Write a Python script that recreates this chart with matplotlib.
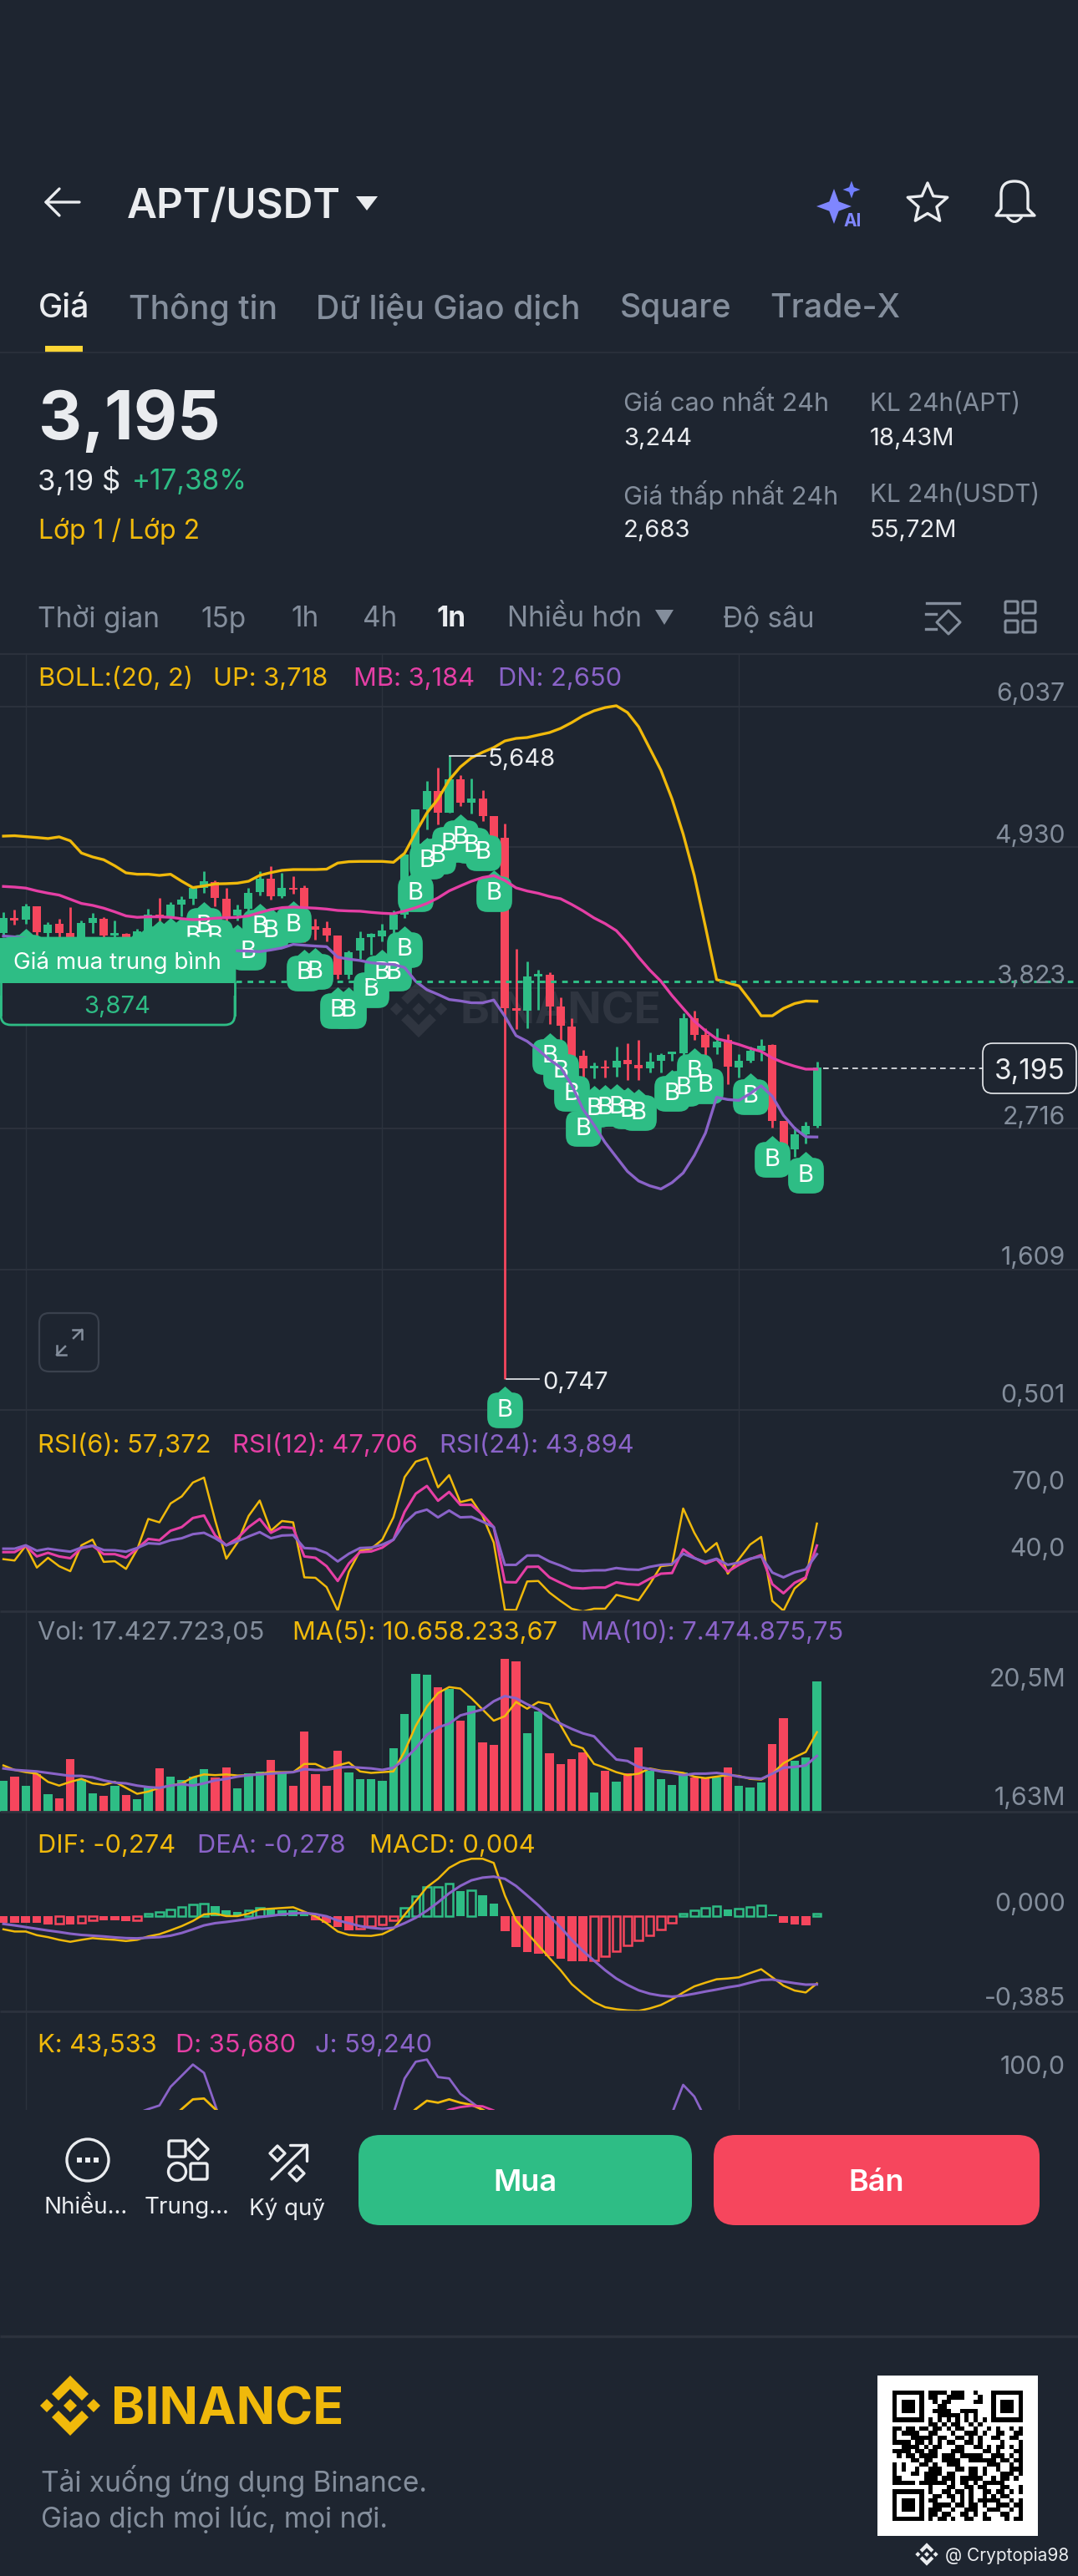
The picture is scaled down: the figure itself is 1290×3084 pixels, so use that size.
import numpy as np
import matplotlib
matplotlib.use("Agg")
import matplotlib.pyplot as plt
from matplotlib.patches import FancyBboxPatch, Polygon, Circle, Rectangle, PathPatch
from matplotlib.path import Path
from matplotlib.markers import MarkerStyle

plt.rcParams['font.family'] = ['Inter', 'DejaVu Sans']

# candles
opens = [4.254,4.372,4.363,4.466,4.258,4.328,4.254,4.214,4.335,4.368,4.236,4.247,4.214,4.273,4.400,4.389,4.482,4.525,4.613,4.657,4.525,4.394,4.444,4.576,4.685,4.547,4.613,4.609,4.306,4.295,4.236,3.929,4.116,4.225,4.232,4.280,4.400,4.872,5.226,5.375,5.205,5.463,5.283,5.314,5.174,5.003,3.662,3.645,3.914,3.927,3.680,3.519,3.290,3.189,3.204,3.197,3.255,3.215,3.192,3.247,3.303,3.310,3.587,3.454,3.353,3.411,3.197,3.252,3.328,3.373,2.774,2.555,2.674,2.739]
highs = [4.422,4.438,4.486,4.466,4.341,4.368,4.460,4.352,4.411,4.379,4.357,4.258,4.289,4.444,4.532,4.499,4.547,4.620,4.744,4.670,4.609,4.477,4.609,4.740,4.780,4.729,4.701,4.631,4.368,4.350,4.236,4.116,4.269,4.258,4.328,4.433,4.872,5.229,5.452,5.555,5.648,5.496,5.474,5.380,5.174,5.117,4.133,4.032,3.964,3.947,3.750,3.587,3.335,3.235,3.255,3.360,3.386,3.416,3.318,3.310,3.323,3.625,3.645,3.504,3.504,3.461,3.303,3.360,3.423,3.378,2.774,2.731,2.769,3.244]
lows = [4.225,4.324,4.328,4.225,4.214,4.214,4.192,4.181,4.258,4.219,4.219,4.192,4.192,4.247,4.280,4.357,4.389,4.477,4.569,4.466,4.324,4.357,4.411,4.554,4.517,4.532,4.565,4.181,4.203,4.192,3.897,3.897,4.050,4.083,4.192,4.258,4.372,4.861,5.069,5.113,5.205,5.255,5.196,5.139,5.003,0.747,3.499,3.504,3.650,3.537,3.398,3.147,3.121,3.109,3.116,3.126,3.096,3.096,3.159,3.159,3.247,3.272,3.411,3.298,3.303,3.066,3.121,3.235,3.247,2.724,2.442,2.492,2.598,2.724]
closes = [4.372,4.354,4.466,4.262,4.324,4.254,4.214,4.335,4.372,4.236,4.258,4.214,4.269,4.400,4.379,4.482,4.521,4.609,4.661,4.530,4.368,4.442,4.574,4.685,4.547,4.613,4.598,4.455,4.284,4.236,3.925,4.105,4.219,4.247,4.276,4.400,4.872,5.229,5.375,5.205,5.463,5.283,5.314,5.174,5.003,3.662,3.645,3.914,3.932,3.680,3.524,3.272,3.189,3.210,3.189,3.252,3.222,3.189,3.242,3.298,3.323,3.587,3.454,3.353,3.398,3.202,3.252,3.328,3.368,2.774,2.467,2.674,2.739,3.195]

# bollinger
boll_up = [5.018,5.021,5.014,5.007,4.999,5.012,4.981,4.885,4.854,4.832,4.784,4.729,4.718,4.718,4.709,4.718,4.663,4.613,4.626,4.642,4.644,4.648,4.663,4.709,4.731,4.749,4.755,4.755,4.755,4.758,4.806,4.817,4.819,4.819,4.819,4.812,4.883,5.047,5.200,5.310,5.459,5.562,5.634,5.678,5.715,5.767,5.787,5.794,5.814,5.833,5.866,5.912,5.965,6.004,6.030,6.044,5.991,5.879,5.708,5.537,5.310,5.034,4.707,4.304,3.889,3.864,3.839,3.725,3.604,3.604,3.662,3.700,3.720,3.718]
boll_mb = [4.622,4.617,4.609,4.587,4.569,4.554,4.521,4.488,4.473,4.451,4.422,4.390,4.379,4.383,4.383,4.379,4.368,4.361,4.363,4.372,4.376,4.379,4.390,4.416,4.440,4.455,4.460,4.455,4.451,4.444,4.433,4.429,4.427,4.418,4.411,4.407,4.429,4.455,4.488,4.532,4.587,4.626,4.663,4.692,4.707,4.669,4.611,4.586,4.568,4.543,4.525,4.480,4.430,4.374,4.329,4.274,4.178,4.065,3.964,3.876,3.763,3.662,3.562,3.486,3.423,3.403,3.378,3.348,3.323,3.272,3.235,3.207,3.184,3.184]
boll_dn = [4.232,4.225,4.214,4.192,4.181,4.170,4.166,4.159,4.153,4.148,4.144,4.131,4.122,4.116,4.116,4.113,4.109,4.105,4.109,4.113,4.116,4.116,4.113,4.109,4.122,4.138,4.166,4.159,4.153,4.148,4.065,4.050,4.039,4.021,4.013,4.008,3.984,3.875,3.809,3.772,3.732,3.721,3.706,3.706,3.728,3.600,3.448,3.403,3.335,3.260,3.197,3.058,2.870,2.744,2.606,2.492,2.379,2.304,2.266,2.241,2.291,2.367,2.505,2.681,2.963,2.945,2.938,2.991,3.053,2.970,2.820,2.719,2.651,2.650]

# buy marks
buy_idx = [2,13,14,15,16,17,18,19,20,21,22,23,24,26,27,28,30,31,33,34,35,36,37,38,39,40,41,42,43,44,45,49,50,51,52,53,54,55,56,57,60,61,62,63,67,69,72]
buy_price = [4.105,4.127,4.17,4.19,4.19,4.225,4.313,4.225,4.15,4.14,4.105,4.302,4.269,4.319,3.94,3.951,3.645,3.645,3.809,3.94,3.94,4.127,4.565,4.823,4.861,4.953,5.007,4.944,4.889,4.565,0.50,3.285,3.167,2.991,2.714,2.87,2.875,2.883,2.857,2.84,2.991,3.033,3.167,3.053,2.97,2.472,2.347]

# rsi
rsi6 = [41.7,41.1,47.6,38.0,42.3,38.6,36.4,47.8,50.3,40.5,40.8,37.4,46.0,59.4,57.9,66.2,69.3,75.4,77.6,58.8,41.9,49.0,60.7,67.5,54.2,58.5,57.9,33.7,33.5,29.4,19.0,36.2,45.4,46.3,50.3,60.1,77.8,84.6,86.2,73.3,78.7,66.8,68.0,60.7,49.0,19.4,19.3,31.9,32.1,27.0,23.3,19.9,18.7,19.9,19.9,26.0,24.8,23.6,30.7,38.6,39.2,64.0,53.3,44.75,48.8,35.3,41.7,48.1,51.5,23.3,19.0,28.8,33.1,57.37]
rsi12 = [44.8,44.8,47.6,42.9,44.5,42.9,42.1,46.6,47.6,43.9,43.9,42.4,46.3,50.6,50.0,54.2,55.8,59.8,60.9,52.1,47.8,50.9,55.8,59.4,53.3,55.8,55.4,42.9,42.3,38.6,32.1,39.8,44.8,45.1,46.8,50.3,62.5,70.5,73.9,67.4,71.3,65.6,65.6,61.3,55.8,31.6,31.5,38.3,38.4,33.7,31.3,29.1,28.8,29.2,29.2,31.5,30.7,30.4,33.1,35.3,35.6,46.0,42.3,39.8,41.7,36.2,39.2,41.7,43.5,30.7,26.7,31.3,33.7,47.7]
rsi24 = [46.3,46.3,47.8,45.4,46.3,45.6,45.0,46.8,47.6,45.7,45.6,45.0,46.6,48.7,48.4,50.0,50.9,52.7,53.3,50.9,47.8,49.6,51.7,53.6,50.9,52.1,52.3,46.6,46.3,44.4,40.7,44.1,46.6,46.8,48.1,50.3,57.6,62.1,63.5,60.1,63.1,60.1,60.3,58.2,55.8,39.2,39.2,43.3,43.3,40.7,38.9,36.8,36.5,36.8,36.8,37.8,37.2,37.0,38.3,39.2,39.5,44.1,42.1,40.5,41.9,39.2,40.2,41.9,42.9,35.8,33.7,35.9,37.2,43.9]

# volume, millions
volume = [4.1,4.7,3.5,5.0,2.4,1.75,7.1,4.4,2.5,2.1,3.5,2.2,1.63,3.3,5.8,4.7,4.2,4.7,5.7,4.6,5.9,3.1,5.2,5.4,6.9,5.1,3.5,10.7,5.0,3.5,8.2,5.3,4.4,4.4,4.1,8.5,13.1,18.5,18.4,16.7,16.5,12.2,14.2,9.3,9.0,20.5,20.1,10.5,13.4,7.8,6.4,7.0,7.9,2.6,5.5,4.0,5.1,8.6,5.5,4.4,3.6,5.3,4.6,4.6,4.6,5.9,3.5,3.2,3.9,9.1,12.5,6.8,7.3,17.43]
vol_ma5 = [6.2,5.6,5.3,5.1,4.0,3.5,4.0,4.4,3.8,3.6,4.0,3.2,2.4,2.7,3.2,3.5,3.8,4.6,5.0,4.9,5.0,4.85,4.9,5.1,5.3,5.3,5.3,6.4,6.4,5.7,6.2,6.6,5.4,5.2,5.3,5.4,8.1,11.5,14.1,15.9,16.7,16.5,15.2,13.7,12.2,12.8,14.7,13.8,14.7,14.4,11.6,9.0,8.5,6.4,5.9,5.3,4.9,5.1,5.8,5.5,5.4,5.2,4.7,4.5,4.7,4.9,4.8,4.4,4.3,5.1,6.5,7.3,8.0,10.66]
vol_ma10 = [5.8,5.6,5.5,5.4,5.2,5.0,4.8,4.8,4.6,4.2,3.9,3.8,3.5,3.3,3.2,3.5,3.7,3.5,3.8,4.2,4.4,4.7,4.9,5.0,5.1,5.2,5.3,5.7,5.6,5.6,5.9,6.0,5.9,5.8,5.6,5.9,7.0,8.5,10.3,11.3,11.8,12.9,13.3,13.7,14.8,15.5,15.2,14.4,13.7,12.6,11.8,11.1,10.5,10.1,8.5,7.0,6.8,6.0,5.7,5.4,5.2,4.9,5.1,5.1,5.2,5.0,4.7,4.5,4.4,5.1,5.9,6.0,6.2,7.47]

# macd
dif = [-.053,-.062,-.062,-.077,-.085,-.096,-.104,-.096,-.089,-.093,-.096,-.101,-.096,-.082,-.073,-.057,-.040,-.019,.008,.011,.001,.001,.011,.028,.031,.034,.037,.019,0,-.028,-.062,-.076,-.079,-.080,-.073,-.051,.006,.062,.119,.153,.198,.223,.235,.235,.218,.085,-.017,-.068,-.119,-.170,-.220,-.277,-.316,-.350,-.371,-.379,-.384,-.386,-.376,-.362,-.339,-.311,-.286,-.271,-.257,-.254,-.249,-.232,-.216,-.249,-.283,-.303,-.311,-.274]
dea = [-.031,-.037,-.044,-.051,-.058,-.064,-.071,-.076,-.079,-.082,-.086,-.089,-.090,-.087,-.085,-.079,-.068,-.053,-.037,-.028,-.023,-.017,-.011,-.003,.002,.008,.012,.014,.009,0,-.017,-.028,-.040,-.047,-.051,-.047,-.028,-.006,.023,.057,.094,.124,.147,.158,.162,.153,.124,.085,.045,0,-.045,-.096,-.141,-.181,-.220,-.254,-.280,-.302,-.316,-.324,-.328,-.324,-.316,-.307,-.299,-.290,-.283,-.271,-.260,-.258,-.266,-.273,-.279,-.278]
macd = [-.025,-.025,-.026,-.028,-.033,-.031,-.033,-.028,-.017,-.017,-.017,-.019,-.017,.011,.017,.028,.037,.049,.053,.042,.026,.019,.023,.034,.028,.025,.023,.017,-.015,-.028,-.042,-.057,-.051,-.040,-.034,-.017,.034,.081,.119,.121,.133,.102,.107,.085,.053,-.059,-.124,-.147,-.153,-.164,-.173,-.184,-.184,-.181,-.164,-.141,-.119,-.098,-.076,-.053,-.028,.011,.026,.034,.042,.028,.031,.037,.045,.008,-.026,-.034,-.037,.011]

# kdj, only the part above the cut off is in view
kdj_j_idx = [12,13,14,15,16,17,18,19,20, 34,35,36,37,38,39,40,41,42,43,44, 59,60,61,62,63]
kdj_j = [75.8,78.8,81.4,94.8,102.8,110.8,104.8,81.8,57.8, 47.8,75.8,100.8,112.8,114.4,101.8,100.8,89.8,83.8,77.8,61.8, 49.8,75.8,96.2,87.8,71.8]
kdj_k_idx = [15,16,17,18,19,20, 36,37,38,39,40,41,42,43,44]
kdj_k = [71.8,78.8,85.8,86.4,78.8,71.8, 71.8,78.8,84.8,83.4,85.8,83.4,81.8,78.4,73.8]
kdj_d_idx = [39,40,41,42,43,44,45]
kdj_d = [74.8,78.4,80.2,81.2,80.8,77.8,71.8]

# qr code as seen, 29 modules
qr_rows = [
"11111110111101110010001111111",
"10000010110011110001001000001",
"10111010010110000011001011101",
"10111010001100000000001011101",
"10111010011110011110001011101",
"10000010001111101010001000001",
"11111110101010101010101111111",
"00000000110101100101000000000",
"11011011011010110010010100101",
"10111100110001001110100110011",
"10001111101100110101001100110",
"11110110101011001101000010001",
"00111101011000110011010110101",
"11110110110001110000110100011",
"01011011110111011111001110101",
"00001101100111100111111011011",
"10100011010011100000011100101",
"10100100111000110110100100111",
"10001101111011000110100011101",
"11000001110111011111001011010",
"11111011111101011010111110000",
"00000000100011001101100011001",
"11111110100110110100110110101",
"10000010011011010100101011000",
"10111010110001010101111100101",
"10111010011110110110100111011",
"10111010111001001110011100101",
"10000010110110011010100011001",
"11111110101101001100110001011",
]

price_ticks = [6.037, 4.930, 3.823, 2.716, 1.609, 0.501]
price_tick_labels = ["6,037", "4,930", "3,823", "2,716", "1,609", "0,501"]
grid_idx = [2, 34, 66]
avg_price = 3.874
last_price = 3.195

BG = "#1e2530"
GRID = "#2c323d"
GREEN = "#2ebd85"
RED = "#f6465d"
YELLOW = "#f0b90b"
PINK = "#e53fa5"
PURPLE = "#8a63c8"
GRAY = "#848e9c"
LIGHT = "#eaecef"

W, H = 1290, 3084
X0, DX = 4.1, 13.335

fig = plt.figure(figsize=(W / 100, H / 100), dpi=100, facecolor=BG)


def panel(top, bottom, vtop, vbottom):
    ax = fig.add_axes([0, 1 - bottom / H, 1, (bottom - top) / H], facecolor="none", zorder=2)
    ax.set_xlim(-X0 / DX, (W - X0) / DX)
    ax.set_ylim(vbottom, vtop)
    ax.axis("off")
    for g in grid_idx:
        ax.axvline(g, color=GRID, lw=1.0, zorder=0)
    return ax


idx = np.arange(len(closes))
up = np.array(closes) >= np.array(opens)
colors = [GREEN if u else RED for u in up]

# main chart
ax = panel(783, 1700, 6.037 + 63 * 0.006574, 6.037 - 854 * 0.006574)
for p in price_ticks:
    ax.axhline(p, color=GRID, lw=1.4, zorder=0)
body_low = np.minimum(opens, closes)
body_h = np.abs(np.array(closes) - np.array(opens))
ax.vlines(idx, lows, highs, colors=colors, lw=2.0, zorder=2)
ax.bar(idx, body_h, bottom=body_low, width=0.75, color=colors, zorder=2)

v = [(-21, -8), (-21, 8), (-21, 21), (-8, 21), (0, 28), (8, 21), (21, 21), (21, 8), (21, -8), (21, -21), (8, -21), (-8, -21), (-21, -21), (-21, -8)]
c = [Path.MOVETO, Path.LINETO, Path.CURVE3, Path.CURVE3, Path.LINETO, Path.LINETO, Path.CURVE3, Path.CURVE3, Path.LINETO, Path.CURVE3, Path.CURVE3, Path.LINETO, Path.CURVE3, Path.CURVE3]
buy_marker = MarkerStyle(Path(v, c))
ax.scatter(buy_idx, buy_price, marker=buy_marker, s=(57 * 0.72) ** 2, color=GREEN, linewidths=0, zorder=3, clip_on=False)
for i, p in zip(buy_idx, buy_price):
    # these sit behind the average price tag
    if i <= 21 and p < 4.2:
        continue
    ax.text(i, p, "B", color="white", fontsize=21, ha="center", va="center", zorder=4, clip_on=False)

ax.plot(idx, boll_up, color=YELLOW, lw=2.4, zorder=5)
ax.plot(idx, boll_mb, color=PINK, lw=2.4, zorder=5)
ax.plot(idx, boll_dn, color=PURPLE, lw=2.4, zorder=5)
ax.axhline(avg_price, color=GREEN, lw=2.2, ls=(0, (2.2, 2.2)), zorder=6)

# rsi
ax = panel(1700, 1929, 102.94, 18.78)
ax.plot(idx, rsi6, color=YELLOW, lw=1.8)
ax.plot(idx, rsi12, color=PINK, lw=2.2)
ax.plot(idx, rsi24, color=PURPLE, lw=2.2)

# volume
ax = panel(1929, 2169, 26.86, 0)
ax.bar(idx, volume, width=0.77, color=colors)
ax.plot(idx, vol_ma5, color=YELLOW, lw=1.8)
ax.plot(idx, vol_ma10, color=PURPLE, lw=2.2)

# macd
ax = panel(2169, 2408, 0.427, -0.388)
for i, m in enumerate(macd):
    col = GREEN if m >= 0 else RED
    rising = i > 0 and m > macd[i - 1]
    ax.bar(i, m, width=0.72 if rising else 0.8, facecolor=BG if rising else col, edgecolor=col, linewidth=1.8 if rising else 0)
ax.plot(idx, dif, color=YELLOW, lw=1.8, clip_on=False)
ax.plot(idx, dea, color=PURPLE, lw=2.2)

# kdj, cut by the toolbar
ax = panel(2408, 2526, 149, 78.2)


def gaps(ix, vals):
    xs, ys = [], []
    for k, (a, b) in enumerate(zip(ix, vals)):
        if k and a != ix[k - 1] + 1:
            xs.append(np.nan)
            ys.append(np.nan)
        xs.append(a)
        ys.append(b)
    return xs, ys


ax.plot(*gaps(kdj_j_idx, kdj_j), color=PURPLE, lw=2.0)
ax.plot(*gaps(kdj_k_idx, kdj_k), color=YELLOW, lw=2.0)
ax.plot(*gaps(kdj_d_idx, kdj_d), color=PINK, lw=2.0)

# everything else is screen furniture, in pixels
ov = fig.add_axes([0, 0, 1, 1], facecolor="none", zorder=5)
ov.set_xlim(0, W)
ov.set_ylim(H, 0)
ov.axis("off")
under = fig.add_axes([0, 0, 1, 1], facecolor="none", zorder=1)
under.set_xlim(0, W)
under.set_ylim(H, 0)
under.axis("off")


def t(x, y, s, size=20, color=LIGHT, ha="left", weight="normal", target=None):
    (target or ov).text(x, y, s, fontsize=size, color=color, ha=ha, va="center_baseline", fontweight=weight)


def rrect(x0, y0, x1, y1, r, target=None, **kw):
    p = FancyBboxPatch((x0, y0), x1 - x0, y1 - y0, boxstyle=f"round,pad=0,rounding_size={r}", **kw)
    (target or ov).add_patch(p)
    return p


def hline(y, lw=1.4, color=GRID, x0=0, x1=W, target=None):
    (target or ov).plot([x0, x1], [y, y], color=color, lw=lw, solid_capstyle="butt")


def logo(cx, cy, s, color, target=None):
    tgt = target or ov
    parts = [
        [(0, -36), (22, -14), (14, -6), (0, -20), (-14, -6), (-22, -14)],
        [(0, 36), (22, 14), (14, 6), (0, 20), (-14, 6), (-22, 14)],
        [(0, -8), (8, 0), (0, 8), (-8, 0)],
        [(-28, -8), (-20, 0), (-28, 8), (-36, 0)],
        [(28, -8), (36, 0), (28, 8), (20, 0)],
    ]
    for part in parts:
        tgt.add_patch(Polygon([(cx + a * s, cy + b * s) for a, b in part], closed=True, color=color, lw=0))


def diamond(cx, cy, r, color=LIGHT, lw=2.0):
    ov.add_patch(Polygon([(cx, cy - r), (cx + r, cy), (cx, cy + r), (cx - r, cy)], closed=True, fill=False, edgecolor=color, lw=lw, joinstyle="round"))


def sparkle(cx, cy, r, color):
    pts = []
    for k in range(8):
        a = np.pi / 4 * k
        rr = r if k % 2 == 0 else r * 0.38
        pts.append((cx + rr * np.sin(a), cy - rr * np.cos(a)))
    ov.add_patch(Polygon(pts, closed=True, color=color, lw=0))


# watermark sits under the chart
logo(501, 1208, 0.95, "#2f3540", target=under)
under.text(550, 1207, "BINANCE", fontsize=38, color="#2f3540", fontweight="bold", va="center_baseline")

# header
ov.plot([95, 55, 71], [242, 242, 226], color=LIGHT, lw=2.4, solid_capstyle="round", solid_joinstyle="round")
ov.plot([55, 71], [242, 258], color=LIGHT, lw=2.4, solid_capstyle="round")
t(152, 243, "APT/USDT", 35.6, weight="semibold")
ov.add_patch(Polygon([(426, 235), (452, 235), (439, 252)], closed=True, color=LIGHT, lw=0))
sparkle(998, 247, 21, "#7f86ff")
sparkle(1019, 227, 10.5, "#6f7dff")
t(1020, 263, "AI", 15, "#7f86ff", ha="center", weight="bold")
star = []
for k in range(10):
    a = np.pi / 5 * k
    rr = 25 if k % 2 == 0 else 11.5
    star.append((1110 + rr * np.sin(a), 244 - rr * np.cos(a)))
ov.add_patch(Polygon(star, closed=True, fill=False, edgecolor=LIGHT, lw=2.4, joinstyle="round"))
bell = Path([(1192, 258), (1198, 250), (1198, 250), (1198, 232), (1198, 217), (1214, 217), (1230, 217), (1230, 232), (1230, 250), (1238, 258), (1238, 258), (1192, 258)],
            [Path.MOVETO, Path.LINETO, Path.LINETO, Path.LINETO, Path.CURVE3, Path.CURVE3, Path.CURVE3, Path.CURVE3, Path.LINETO, Path.LINETO, Path.LINETO, Path.CLOSEPOLY])
ov.add_patch(PathPatch(bell, fill=False, edgecolor=LIGHT, lw=2.4, joinstyle="round"))
ov.add_patch(PathPatch(Path([(1205, 259), (1214, 272), (1223, 259)], [Path.MOVETO, Path.CURVE3, Path.CURVE3]), fill=False, edgecolor=LIGHT, lw=2.2))

# tabs
tab_x = [46, 154, 378, 742, 921]
tab_labels = ["Giá", "Thông tin", "Dữ liệu Giao dịch", "Square", "Trade-X"]
for i, (x, s) in enumerate(zip(tab_x, tab_labels)):
    t(x, 366, s, 28.2, LIGHT if i == 0 else GRAY, weight="medium")
ov.add_patch(Rectangle((54, 414), 45, 8, color="#fcd535", lw=0))
hline(422, 1.2)

# price block
t(46, 496, "3,195", 58, weight="bold")
t(45, 573, "3,19 $", 25, LIGHT)
t(158, 573, "+17,38%", 24, GREEN)
t(46, 632, "Lớp 1 / Lớp 2", 23, YELLOW)
t(746, 481, "Giá cao nhất 24h", 22, GRAY)
t(746, 523, "3,244", 21)
t(746, 590, "Giá thấp nhất 24h", 22, GRAY)
t(746, 632, "2,683", 21)
t(1041, 481, "KL 24h(APT)", 21.4, GRAY)
t(1041, 523, "18,43M", 21)
t(1041, 590, "KL 24h(USDT)", 21.4, GRAY)
t(1041, 632, "55,72M", 21)

# interval row
interval_x = [45, 240, 348, 434, 523, 607, 865]
interval_labels = ["Thời gian", "15p", "1h", "4h", "1n", "Nhiều hơn", "Độ sâu"]
for x, s in zip(interval_x, interval_labels):
    t(x, 738, s, 24, LIGHT if s == "1n" else GRAY, weight="bold" if s == "1n" else "normal")
ov.add_patch(Polygon([(784, 730), (806, 730), (795, 748)], closed=True, color=GRAY, lw=0))
ov.plot([1109, 1148], [722, 722], color=GRAY, lw=2.4)
ov.plot([1108, 1120], [735, 735], color=GRAY, lw=2.4)
ov.plot([1108, 1120], [753, 753], color=GRAY, lw=2.4)
diamond(1135, 745, 14, GRAY, 2.2)
for a in (1203, 1224):
    for b in (720, 743):
        rrect(a, b, a + 15, b + 14, 1.5, fill=False, edgecolor=GRAY, lw=2.2)
hline(783, 1.4)

# indicator headers
for x, s, col in [(46, "BOLL:(20, 2)", YELLOW), (255, "UP: 3,718", YELLOW), (423, "MB: 3,184", PINK), (596, "DN: 2,650", PURPLE)]:
    t(x, 810, s, 22.2, col)
for x, s, col in [(45, "RSI(6): 57,372", YELLOW), (278, "RSI(12): 47,706", PINK), (526, "RSI(24): 43,894", PURPLE)]:
    t(x, 1727, s, 22.2, col)
for x, s, col in [(45, "Vol: 17.427.723,05", GRAY), (350, "MA(5): 10.658.233,67", YELLOW), (695, "MA(10): 7.474.875,75", PURPLE)]:
    t(x, 1952, s, 22.2, col)
for x, s, col in [(45, "DIF: -0,274", YELLOW), (236, "DEA: -0,278", PURPLE), (442, "MACD: 0,004", YELLOW)]:
    t(x, 2207, s, 22.2, col)
for x, s, col in [(45, "K: 43,533", YELLOW), (210, "D: 35,680", PINK), (377, "J: 59,240", PURPLE)]:
    t(x, 2446, s, 22.2, col)

# axis labels
axis_y = [828, 998, 1166, 1335, 1503, 1668]
for y, s in zip(axis_y, price_tick_labels):
    t(1275, y, s, 21.8, GRAY, ha="right")
for y, s in [(1772, "70,0"), (1852, "40,0"), (2008, "20,5M"), (2150, "1,63M"), (2277, "0,000"), (2390, "-0,385"), (2472, "100,0")]:
    t(1275, y, s, 21.8, GRAY, ha="right")

# panel separators
hline(1929, 2.0)
hline(2169, 2.0)
hline(2408, 2.0)

# high / low tags
ov.plot([538, 581], [905, 905], color=LIGHT, lw=1.2)
t(584, 906, "5,648", 21)
ov.plot([606, 645], [1651, 1651], color=LIGHT, lw=1.2)
t(649, 1652, "0,747", 21)

# last price
ov.plot([985, 1176], [1279, 1279], color=LIGHT, lw=1.2, ls=(0, (4, 3)))
rrect(1176, 1249, 1288, 1309, 12, facecolor=BG, edgecolor=LIGHT, lw=1.2)
t(1232, 1280, "3,195", 24, ha="center")

# average buy price tag
rrect(1, 1123, 281, 1227, 12, facecolor=BG, edgecolor=GREEN, lw=2.0)
rrect(-12, 1123, 281, 1190, 12, facecolor=GREEN, lw=0)
ov.add_patch(Rectangle((0, 1177), 283, 15, facecolor=BG, lw=0))
ov.plot([1, 1], [1177, 1215], color=GREEN, lw=2.0)
ov.plot([281, 281], [1177, 1215], color=GREEN, lw=2.0)
t(140, 1150, "Giá mua trung bình", 20, "white", ha="center")
t(140, 1202, "3,874", 21, GREEN, ha="center")

# expand button
rrect(47, 1572, 118, 1642, 12, fill=False, edgecolor="#3a414d", lw=1.6)
ov.plot([68, 78], [1622, 1612], color=GRAY, lw=1.8)
ov.plot([68, 68, 79], [1611, 1622, 1622], color=GRAY, lw=1.8)
ov.plot([88, 98], [1602, 1592], color=GRAY, lw=1.8)
ov.plot([87, 98, 98], [1592, 1592, 1603], color=GRAY, lw=1.8)

# toolbar
ov.add_patch(Circle((105, 2586), 25, fill=False, edgecolor=LIGHT, lw=2.4))
for x in (95, 105, 115):
    ov.add_patch(Rectangle((x - 3, 2583), 6, 6, color=LIGHT, lw=0))
rrect(202, 2563, 222, 2582, 2, fill=False, edgecolor=LIGHT, lw=2.4)
diamond(237, 2573, 12, LIGHT, 2.4)
ov.add_patch(Circle((212, 2600), 10.5, fill=False, edgecolor=LIGHT, lw=2.4))
rrect(228, 2590, 248, 2609, 2, fill=False, edgecolor=LIGHT, lw=2.4)
ov.plot([325, 367], [2609, 2568], color=LIGHT, lw=2.4, solid_capstyle="round")
ov.plot([347, 367, 367], [2568, 2568, 2587], color=LIGHT, lw=2.4, solid_capstyle="round")
diamond(332, 2578, 9, LIGHT, 2.4)
diamond(355, 2602, 9, LIGHT, 2.4)
t(103, 2640, "Nhiều...", 20, ha="center")
t(224, 2640, "Trung...", 20, ha="center")
t(344, 2642, "Ký quỹ", 20, ha="center")
rrect(429, 2556, 828, 2664, 26, facecolor=GREEN, lw=0)
rrect(854, 2556, 1244, 2664, 26, facecolor=RED, lw=0)
t(628, 2610, "Mua", 26, "white", ha="center", weight="semibold")
t(1049, 2610, "Bán", 26, "white", ha="center", weight="semibold")

# footer
hline(2797, 2.4)
logo(84, 2880, 1.0, YELLOW)
t(133, 2880, "BINANCE", 44, YELLOW, weight="bold")
t(49, 2967, "Tải xuống ứng dụng Binance.", 24, GRAY)
t(49, 3013, "Giao dịch mọi lúc, mọi nơi.", 24, GRAY)
ov.add_patch(Rectangle((1050, 2844), 192, 192, color="white", lw=0))
qr = np.array([[int(ch) for ch in row.ljust(29, "0")[:29]] for row in qr_rows])
ov.imshow(qr, cmap="gray_r", extent=(1068, 1224, 3018, 2862), interpolation="nearest", aspect="auto", zorder=3)
ov.set_xlim(0, W)
ov.set_ylim(H, 0)
logo(1109, 3058, 0.38, LIGHT)
t(1131, 3058, "@ Cryptopia98", 15)

fig.savefig("out.png", dpi=100, facecolor=BG)
